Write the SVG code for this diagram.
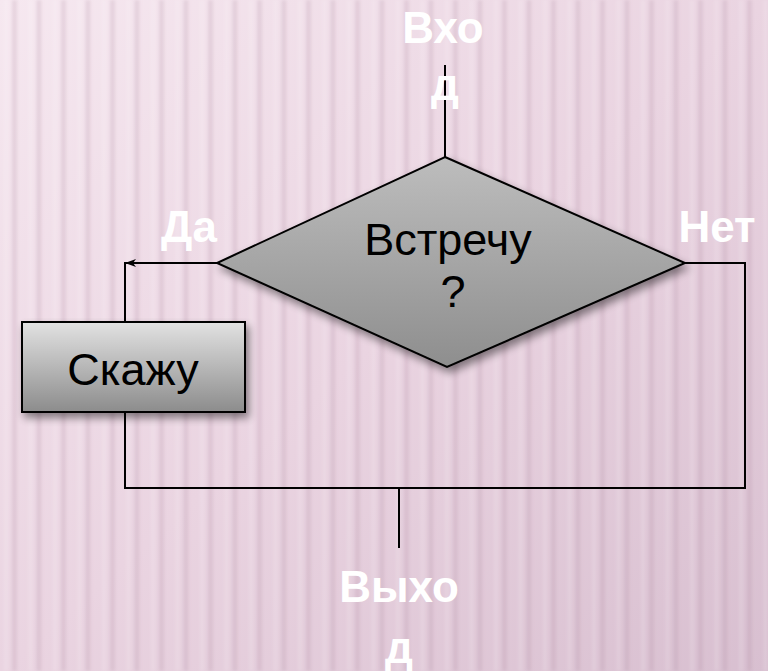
<svg xmlns="http://www.w3.org/2000/svg" width="768" height="671" viewBox="0 0 768 671">
  <defs>
    <linearGradient id="bg" x1="0" y1="0" x2="1" y2="1">
      <stop offset="0" stop-color="#f6e8f0"/>
      <stop offset="0.5" stop-color="#ead4e1"/>
      <stop offset="1" stop-color="#d8bfd0"/>
    </linearGradient>
    <pattern id="stripes" x="0" y="0" width="24.5" height="671" patternUnits="userSpaceOnUse">
      <rect x="12" y="0" width="5" height="671" fill="#a9869b" opacity="0.2"/>
      <rect x="4" y="0" width="4" height="671" fill="#ffffff" opacity="0.15"/>
    </pattern>
    <filter id="soft" x="-5%" y="-5%" width="110%" height="110%">
      <feGaussianBlur stdDeviation="1.8"/>
    </filter>
    <linearGradient id="boxFill" x1="0" y1="0" x2="0" y2="1">
      <stop offset="0" stop-color="#e2e2e2"/>
      <stop offset="1" stop-color="#8c8c8c"/>
    </linearGradient>
    <linearGradient id="diamondFill" x1="0" y1="0" x2="0" y2="1">
      <stop offset="0" stop-color="#bdbdbd"/>
      <stop offset="1" stop-color="#8e8e8e"/>
    </linearGradient>
    <filter id="shadow" x="-10%" y="-10%" width="125%" height="130%">
      <feGaussianBlur in="SourceAlpha" stdDeviation="4"/>
      <feOffset dx="3" dy="5" result="b"/>
      <feComponentTransfer><feFuncA type="linear" slope="0.45"/></feComponentTransfer>
      <feMerge><feMergeNode/><feMergeNode in="SourceGraphic"/></feMerge>
    </filter>
    <marker id="arrow" markerWidth="12" markerHeight="10" refX="11" refY="5" orient="auto" markerUnits="userSpaceOnUse">
      <path d="M0,1 L11,5 L0,9 L3,5 Z" fill="#000"/>
    </marker>
    <style>
      .line { fill: none; stroke: #000; stroke-width: 2; }
      .label { font-family: "Liberation Sans", Arial, sans-serif; font-weight: bold; font-size: 44px; fill: #ffffff; text-anchor: middle; }
      .inner { font-family: "Liberation Sans", Arial, sans-serif; font-size: 45px; fill: #000; text-anchor: middle; }
    </style>
  </defs>

  <!-- background -->
  <rect width="768" height="671" fill="url(#bg)"/>
  <rect width="768" height="671" fill="url(#stripes)" filter="url(#soft)"/>

  <!-- connectors -->
  <g id="connectors">
    <line class="line" x1="445" y1="65" x2="445" y2="157"/>
    <line class="line" x1="217" y1="263" x2="125" y2="263" marker-end="url(#arrow)"/>
    <polyline class="line" points="125,262 125,488 745,488 745,263 685,263"/>
    <line class="line" x1="399" y1="488" x2="399" y2="548"/>
  </g>

  <!-- decision -->
  <g id="decision">
    <polygon points="445,157 685,263 447,367 217,263" fill="url(#diamondFill)" stroke="#000" stroke-width="2" filter="url(#shadow)"/>
    <text class="inner" x="448" y="255">Встречу</text>
    <text class="inner" x="453" y="307">?</text>
  </g>

  <!-- action -->
  <g id="action">
    <rect x="22" y="322" width="223" height="90" fill="url(#boxFill)" stroke="#000" stroke-width="2" filter="url(#shadow)"/>
    <text class="inner" x="133" y="385">Скажу</text>
  </g>

  <!-- labels -->
  <g id="entry">
    <text class="label" x="443" y="43">Вхо</text>
    <text class="label" x="445" y="100">д</text>
  </g>
  <g id="yes">
    <text class="label" x="189" y="242">Да</text>
  </g>
  <g id="no">
    <text class="label" x="717" y="242">Нет</text>
  </g>
  <g id="exit">
    <text class="label" x="399" y="602">Выхо</text>
    <text class="label" x="399" y="663">д</text>
  </g>
</svg>
